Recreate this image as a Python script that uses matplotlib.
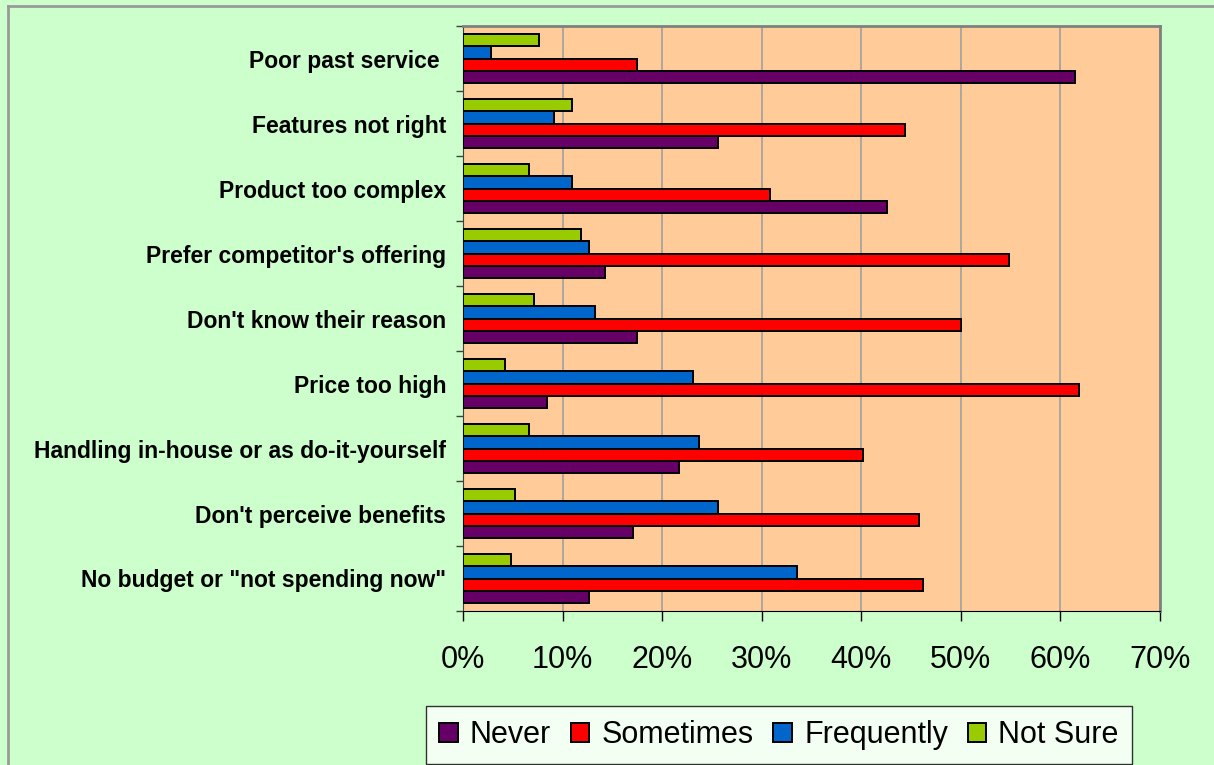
import matplotlib
matplotlib.use("Agg")
import matplotlib.pyplot as plt
from matplotlib.lines import Line2D
import numpy as np

plt.rcParams['font.family'] = ['Liberation Sans', 'DejaVu Sans']

# categories listed top -> bottom as in the chart
categories = ["Poor past service ", "Features not right", "Product too complex",
              "Prefer competitor's offering", "Don't know their reason", "Price too high",
              "Handling in-house or as do-it-yourself", "Don't perceive benefits",
              'No budget or "not spending now"']
never      = [61.5, 25.6, 42.6, 14.3, 17.5,  8.4, 21.7, 17.1, 12.7]
sometimes  = [17.5, 44.4, 30.8, 54.8, 50.0, 61.9, 40.2, 45.8, 46.2]
frequently = [ 2.8,  9.1, 10.9, 12.7, 13.3, 23.1, 23.7, 25.6, 33.5]
not_sure   = [ 7.6, 10.9,  6.6, 11.9,  7.1,  4.2,  6.6,  5.2,  4.8]
series_names = ["Never", "Sometimes", "Frequently", "Not Sure"]
colors = ["#660066", "#FF0000", "#0066CC", "#99CC00"]
xticks = [0, 10, 20, 30, 40, 50, 60, 70]

W, H = 1214, 765
fig = plt.figure(figsize=(W/100, H/100), dpi=100, facecolor="#CCFFCC")
ax = fig.add_axes([463/W, 1-611/H, (1160-463)/W, 585/H])
ax.set_facecolor("#FFCC99")

n = len(categories)
y = np.arange(n)[::-1]  # first category at top
h = 0.185
series = [never, sometimes, frequently, not_sure]
offsets = [-1.5*h, -0.5*h, 0.5*h, 1.5*h]
bars = []
for vals, col, off, name in zip(series, colors, offsets, series_names):
    b = ax.barh(y + off, np.array(vals)/100, height=h, color=col,
                edgecolor="black", linewidth=1.4, label=name, zorder=3)
    bars.append(b)

ax.set_xlim(0, 0.7)
ax.set_ylim(-0.5, n-0.5)
ax.set_xticks(np.array(xticks)/100)
ax.set_xticklabels(["%d%%" % t for t in xticks], fontsize=22)
ax.xaxis.grid(True, color="#A0A0A0", linewidth=1.2, zorder=0)
ax.tick_params(axis="x", direction="out", length=7.5, width=1, pad=17, colors="black")

ax.set_yticks(y)
ax.set_yticklabels(categories, fontsize=16.5, fontweight="bold")
ax.set_yticks(np.arange(n+1) - 0.5, minor=True)
ax.tick_params(axis="y", which="major", length=0, pad=12)
ax.tick_params(axis="y", which="minor", length=5, width=1, color="#404040")

for s in ["top", "right"]:
    ax.spines[s].set_color("#808080")
    ax.spines[s].set_linewidth(2)
ax.spines["left"].set_color("#404040")
ax.spines["bottom"].set_color("black")

leg = fig.legend(handles=bars, labels=series_names, loc="center",
                 bbox_to_anchor=(779/W, 1-735/H), ncol=4, fontsize=22,
                 frameon=True, fancybox=False, shadow=False,
                 handlelength=0.6, handleheight=0.6, handletextpad=0.4,
                 columnspacing=0.65, borderpad=0.45, borderaxespad=0)
leg.get_frame().set_edgecolor("black")
leg.get_frame().set_facecolor("white")
leg.get_frame().set_linewidth(1)

# outer chart border (left and top visible)
fig.add_artist(Line2D([7.5/W, 7.5/W], [0, 1-5.5/H], transform=fig.transFigure,
                      color="#999999", linewidth=2))
fig.add_artist(Line2D([7.5/W, 1], [1-5.5/H, 1-5.5/H], transform=fig.transFigure,
                      color="#999999", linewidth=2))

fig.savefig("out.png", dpi=100, facecolor=fig.get_facecolor())
